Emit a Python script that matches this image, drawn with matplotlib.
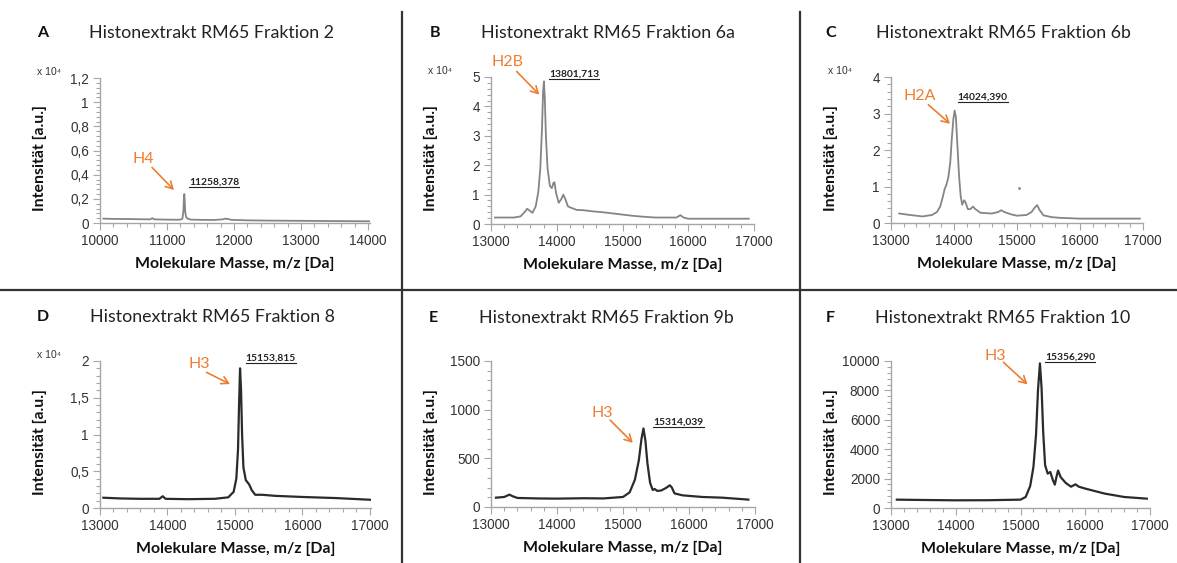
import matplotlib
matplotlib.use("Agg")
import matplotlib.pyplot as plt
from matplotlib.lines import Line2D
from matplotlib.ticker import MultipleLocator, FuncFormatter

W, H = 1177, 563

# ---- spectra ----
mass_a = [10050, 10200, 10400, 10600, 10750, 10780, 10810, 11000, 11150, 11200, 11230, 11245,
          11252, 11258, 11264, 11272, 11285, 11310, 11360, 11500, 11700, 11830, 11870, 11910,
          11960, 12200, 12500, 13000, 13500, 14050]
int_a = [0.036, 0.034, 0.033, 0.031, 0.030, 0.040, 0.030, 0.028, 0.027, 0.028, 0.035, 0.10,
         0.20, 0.24, 0.19, 0.09, 0.05, 0.035, 0.028, 0.026, 0.025, 0.030, 0.036, 0.033,
         0.026, 0.022, 0.020, 0.018, 0.016, 0.014]

mass_b = [13060, 13200, 13350, 13450, 13510, 13550, 13590, 13630, 13680, 13720, 13750, 13775,
          13792, 13805, 13818, 13835, 13860, 13895, 13925, 13950, 13965, 13990, 14030, 14070,
          14100, 14130, 14170, 14220, 14260, 14300, 14400, 14550, 14700, 14850, 15000, 15150,
          15300, 15500, 15700, 15820, 15880, 15930, 16000, 16300, 16600, 16920]
int_b = [0.22, 0.22, 0.22, 0.26, 0.40, 0.52, 0.45, 0.38, 0.60, 1.10, 1.90, 3.20,
         4.50, 4.85, 4.30, 3.00, 1.90, 1.30, 1.22, 1.40, 1.42, 1.05, 0.72, 0.85,
         1.00, 0.85, 0.60, 0.55, 0.52, 0.48, 0.47, 0.43, 0.40, 0.36, 0.32, 0.28,
         0.25, 0.22, 0.22, 0.22, 0.30, 0.22, 0.18, 0.18, 0.18, 0.18]

mass_c = [13130, 13300, 13500, 13650, 13730, 13780, 13820, 13850, 13880, 13910, 13940, 13965,
          13990, 14010, 14030, 14055, 14080, 14105, 14130, 14160, 14180, 14220, 14260, 14300,
          14340, 14420, 14600, 14700, 14750, 14800, 14900, 15000, 15150, 15230, 15280, 15320,
          15360, 15420, 15550, 15700, 16000, 16500, 16950]
int_c = [0.26, 0.22, 0.18, 0.22, 0.30, 0.45, 0.70, 0.92, 1.05, 1.25, 1.65, 2.30,
         2.85, 3.08, 2.90, 2.10, 1.30, 0.75, 0.50, 0.62, 0.58, 0.38, 0.38, 0.45,
         0.38, 0.28, 0.26, 0.30, 0.35, 0.30, 0.24, 0.20, 0.22, 0.30, 0.42, 0.49,
         0.35, 0.21, 0.16, 0.14, 0.12, 0.12, 0.12]
stray_c = (15030, 0.96)

mass_d = [13050, 13300, 13600, 13880, 13930, 13970, 14300, 14700, 14900, 14980, 15020, 15045,
          15060, 15075, 15090, 15105, 15125, 15160, 15210, 15250, 15300, 15400, 15600, 16000,
          16500, 17050]
int_d = [0.14, 0.13, 0.125, 0.125, 0.16, 0.125, 0.12, 0.125, 0.145, 0.22, 0.40, 0.80,
         1.40, 1.90, 1.60, 1.00, 0.55, 0.38, 0.32, 0.24, 0.18, 0.18, 0.165, 0.15,
         0.135, 0.11]

mass_e = [13075, 13200, 13280, 13330, 13400, 13700, 14000, 14400, 14700, 15000, 15100, 15180,
          15240, 15280, 15310, 15340, 15370, 15410, 15450, 15480, 15520, 15580, 15650, 15710,
          15740, 15780, 15900, 16200, 16500, 16900]
int_e = [96, 103, 127, 110, 93, 88, 86, 90, 88, 103, 150, 280,
         480, 700, 807, 680, 450, 250, 175, 185, 165, 170, 195, 223,
         200, 140, 120, 103, 96, 76]

mass_f = [13090, 13500, 14000, 14500, 15000, 15080, 15150, 15200, 15240, 15270, 15300, 15325,
          15350, 15380, 15420, 15460, 15500, 15530, 15560, 15580, 15620, 15700, 15780, 15850,
          15900, 16000, 16300, 16600, 16950]
int_f = [568, 545, 523, 530, 568, 750, 1500, 2800, 5000, 8000, 9840, 8200,
         5200, 2910, 2340, 2450, 1900, 1590, 2200, 2550, 2100, 1700, 1450, 1610,
         1450, 1320, 980, 750, 636]

letters = ["A", "B", "C", "D", "E", "F"]
titles = ["Histonextrakt RM65 Fraktion 2", "Histonextrakt RM65 Fraktion 6a",
          "Histonextrakt RM65 Fraktion 6b", "Histonextrakt RM65 Fraktion 8",
          "Histonextrakt RM65 Fraktion 9b", "Histonextrakt RM65 Fraktion 10"]
histones = ["H4", "H2B", "H2A", "H3", "H3", "H3"]
peak_labels = ["11258,378", "13801,713", "14024,390", "15153,815", "15314,039", "15356,290"]
scale_labels = ["x 10\u2074", "x 10\u2074", "x 10\u2074", "x 10\u2074", None, None]
y_max = [1.2, 5, 4, 2, 1500, 10000]
y_major = [0.2, 1, 1, 0.5, 500, 2000]

# panel layout in pixels: left, right, top, bottom, xmin, xmax
boxes = [(100, 370, 78, 223, 10000, 14030),
         (491, 754, 77, 224, 13000, 17000),
         (891, 1143, 77, 223, 13000, 17000),
         (100, 371, 361, 508, 13000, 17015),
         (491, 755, 361, 507, 13000, 17000),
         (891, 1150, 361, 508, 13000, 17000)]
# annotation positions (data coords): histone text, arrow start, arrow tip, label left/centre
annos = [((10642, 0.53), (10776, 0.46), (11104, 0.273), (11333, 0.342)),
         ((13248, 5.5), (13390, 5.19), (13734, 4.40), (13886, 5.11)),
         ((13450, 3.47), (13593, 3.24), (13937, 2.72), (14058, 3.44)),
         ((14467, 1.955), (14580, 1.845), (14926, 1.686), (15158, 2.036)),
         ((14680, 968), (14806, 892), (15149, 659), (15462, 875)),
         ((14609, 10341), (14738, 9909), (15108, 8409), (15380, 10295))]
title_pos = [(37, 89, 33), (430, 481, 33), (825, 876, 33),
             (37, 90, 317), (429, 479, 318), (826, 875, 318)]

spectra = [(mass_a, int_a), (mass_b, int_b), (mass_c, int_c),
           (mass_d, int_d), (mass_e, int_e), (mass_f, int_f)]

orange = "#ED7D31"
spine_col = "#a6a6a6"
tick_font = ["Liberation Sans", "DejaVu Sans"]


def comma(v, pos):
    return ("%g" % v).replace(".", ",")


fig = plt.figure(figsize=(W / 100, H / 100), dpi=100)

peak_texts = []
for i in range(6):
    l, r, t, b, x0, x1 = boxes[i]
    ax = fig.add_axes([l / W, 1 - b / H, (r - l) / W, (b - t) / H])
    mass, inten = spectra[i]
    if i < 3:
        ax.plot(mass, inten, color="#858585", lw=1.3)
    else:
        ax.plot(mass, inten, color="#2b2b2b", lw=1.6)
    if i == 2:
        ax.plot([stray_c[0]], [stray_c[1]], "o", ms=1.2, color="#999999")

    ax.set_xlim(x0, x1)
    ax.set_ylim(0, y_max[i])
    for s in ["top", "right"]:
        ax.spines[s].set_visible(False)
    for s in ["left", "bottom"]:
        ax.spines[s].set_color(spine_col)
        ax.spines[s].set_linewidth(1.0)
    ax.xaxis.set_major_locator(MultipleLocator(1000))
    ax.xaxis.set_minor_locator(MultipleLocator(200))
    ax.yaxis.set_major_locator(MultipleLocator(y_major[i]))
    ax.yaxis.set_minor_locator(MultipleLocator(y_major[i] / 5))
    ax.yaxis.set_major_formatter(FuncFormatter(comma))
    ax.tick_params(which="both", direction="out", color=spine_col, width=0.8)
    ax.tick_params(which="major", length=5, labelsize=9.8, labelcolor="#333333", pad=3)
    ax.tick_params(which="minor", length=3)
    for lab in ax.get_xticklabels() + ax.get_yticklabels():
        lab.set_family(tick_font)

    ax.set_xlabel("Molekulare Masse, m/z [Da]", family="Lato", fontweight="bold",
                  fontsize=11.4, color="#111111")
    ax.xaxis.set_label_coords((l + r) / 2 / W, 1 - (b + 34) / H, transform=fig.transFigure)
    ax.set_ylabel("Intensität [a.u.]", family="Lato", fontweight="bold",
                  fontsize=11.4, color="#111111")
    ax.yaxis.set_label_coords((l - 53) / W, 1 - ((t + b) / 2 + 8) / H,
                              transform=fig.transFigure)

    txt_pos, arr_from, arr_to, lab_pos = annos[i]
    ax.text(txt_pos[0], txt_pos[1], histones[i], color=orange, family="Lato",
            fontsize=11.5, ha="center", va="center", clip_on=False)
    ax.annotate("", xy=arr_to, xytext=arr_from, annotation_clip=False,
                arrowprops=dict(arrowstyle="->,head_length=0.5,head_width=0.28",
                                color=orange, lw=1.2, shrinkA=0, shrinkB=0))
    pt = ax.text(lab_pos[0], lab_pos[1], peak_labels[i], family="Lato", fontweight="bold",
                 fontsize=7.4, color="#222222", ha="left", va="center", clip_on=False)
    peak_texts.append(pt)

    if scale_labels[i]:
        fig.text((l - 63) / W, 1 - (t - 6) / H, scale_labels[i], family=tick_font,
                 fontsize=7.5, color="#333333", ha="left", va="center")

    lx, tx, ty = title_pos[i]
    fig.text(lx / W, 1 - ty / H, letters[i], family="Lato", fontweight="bold",
             fontsize=11.5, color="#111111", ha="left", va="center")
    fig.text(tx / W, 1 - ty / H, titles[i], family="Lato", fontsize=12.8,
             color="#222222", ha="left", va="center")

# separator lines between panels
for x in [402, 800]:
    fig.add_artist(Line2D([x / W, x / W], [1 - 12 / H, 0], color="#333333", lw=1.6))
fig.add_artist(Line2D([0, 1], [1 - 290 / H, 1 - 290 / H], color="#333333", lw=1.6))

# underline the peak masses
fig.canvas.draw()
for pt in peak_texts:
    bb = pt.get_window_extent()
    yy = (bb.y0 - 0.5) / H
    fig.add_artist(Line2D([bb.x0 / W, bb.x1 / W], [yy, yy], color="#222222", lw=0.8))

fig.savefig("out.png", dpi=100)
